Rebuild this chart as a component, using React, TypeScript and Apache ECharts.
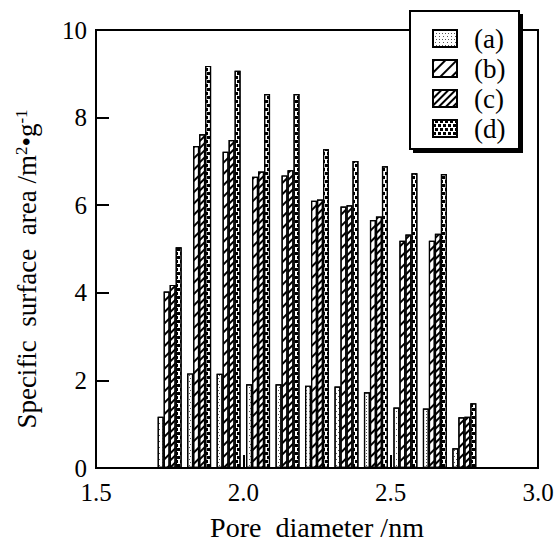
import React, { useEffect, useRef } from "react";
import * as echarts from "echarts";

const poreDiameters = [1.75, 1.85, 1.95, 2.05, 2.15, 2.25, 2.35, 2.45, 2.55, 2.65, 2.75];
const seriesA = [1.17, 2.16, 2.15, 1.91, 1.91, 1.88, 1.86, 1.73, 1.38, 1.36, 0.45];
const seriesB = [4.03, 7.35, 7.22, 6.65, 6.68, 6.1, 5.97, 5.66, 5.19, 5.19, 1.16];
const seriesC = [4.18, 7.62, 7.49, 6.77, 6.8, 6.13, 6.0, 5.74, 5.33, 5.35, 1.17];
const seriesD = [5.04, 9.18, 9.07, 8.54, 8.54, 7.28, 7.01, 6.89, 6.73, 6.71, 1.48];
const seriesNames = ["(a)", "(b)", "(c)", "(d)"];
const xTicks = [1.5, 2.0, 2.5, 3.0];
const yTicks = [0, 2, 4, 6, 8, 10];

const FONT = "Liberation Serif";

const decals: any[] = [
  {
    symbol: "rect",
    symbolSize: 1,
    color: "#555",
    backgroundColor: "#fff",
    dashArrayX: [[1, 2], [0, 1.5, 1, 0.5]],
    dashArrayY: [1, 1.5],
    rotation: 0,
  },
  {
    symbol: "rect",
    symbolSize: 1,
    color: "#000",
    backgroundColor: "#fff",
    dashArrayX: [1, 0],
    dashArrayY: [1.6, 6],
    rotation: -Math.PI / 4,
  },
  {
    symbol: "rect",
    symbolSize: 1,
    color: "#000",
    backgroundColor: "#fff",
    dashArrayX: [1, 0],
    dashArrayY: [1.5, 2.2],
    rotation: -Math.PI / 4,
  },
  {
    symbol: "rect",
    symbolSize: 1,
    color: "#000",
    backgroundColor: "#fff",
    dashArrayX: [[3, 1.5], [0, 1.5, 3, 0]],
    dashArrayY: [2.5, 0.8],
    rotation: 0,
  },
];

export default function App() {
  const ref = useRef<HTMLDivElement>(null);
  useEffect(() => {
    if (!ref.current) return;
    const chart = echarts.init(ref.current, undefined, { renderer: "svg" });
    const allValues = [seriesA, seriesB, seriesC, seriesD];
    const series = allValues.map((vals, i) => ({
      name: seriesNames[i],
      type: "bar",
      barWidth: 6,
      barGap: "0%",
      data: poreDiameters.map((x, j) => [x, vals[j]]),
      itemStyle: {
        color: "#fff",
        borderColor: "#000",
        borderWidth: 1.2,
        decal: decals[i],
      },
    }));
    chart.setOption({
      animation: false,
      backgroundColor: "#fff",
      grid: {
        left: 96,
        right: 18,
        top: 30,
        bottom: 75,
        outerBoundsMode: "none",
        containLabel: false,
        show: true,
        borderColor: "#000",
        borderWidth: 2,
        backgroundColor: "transparent",
      },
      xAxis: {
        type: "value",
        min: xTicks[0],
        max: xTicks[xTicks.length - 1],
        interval: 0.5,
        name: "Pore  diameter /nm",
        nameLocation: "middle",
        nameGap: 45,
        nameTextStyle: { fontFamily: FONT, fontSize: 28, color: "#000" },
        axisLine: { lineStyle: { color: "#000", width: 2 } },
        axisTick: { inside: true, length: 13, lineStyle: { color: "#000", width: 2 } },
        axisLabel: {
          fontFamily: FONT,
          fontSize: 25,
          color: "#000",
          margin: 12,
          formatter: (v: number) => v.toFixed(1),
        },
        splitLine: { show: false },
      },
      yAxis: {
        type: "value",
        min: yTicks[0],
        max: yTicks[yTicks.length - 1],
        interval: 2,
        name: "{t|Specific  surface  area /m}{s|2}{t|•g}{s|-1}",
        nameLocation: "middle",
        nameGap: 56,
        nameTextStyle: {
          fontFamily: FONT,
          fontSize: 27,
          color: "#000",
          padding: [0, 40, 0, 0],
          rich: {
            t: { fontFamily: FONT, fontSize: 27, color: "#000" },
            s: { fontFamily: FONT, fontSize: 17, color: "#000", verticalAlign: "top" },
          },
        },
        axisLine: { lineStyle: { color: "#000", width: 2 } },
        axisTick: { inside: true, length: 13, lineStyle: { color: "#000", width: 2 } },
        axisLabel: { fontFamily: FONT, fontSize: 25, color: "#000", margin: 9 },
        splitLine: { show: false },
      },
      legend: {
        orient: "vertical",
        left: 432,
        top: 25,
        padding: 0,
        itemGap: 3,
        itemWidth: 24,
        itemHeight: 17,
        icon: "rect",
        z: 10,
        textStyle: { fontFamily: FONT, fontSize: 27, color: "#000", padding: [0, 0, 0, 12] },
        data: seriesNames,
      },
      graphic: [
        {
          type: "rect",
          z: 8,
          shape: { x: 413, y: 14, width: 110, height: 139 },
          style: { fill: "#000" },
        },
        {
          type: "rect",
          z: 9,
          shape: { x: 410, y: 11, width: 109, height: 138 },
          style: { fill: "#fff", stroke: "#000", lineWidth: 2 },
        },
      ],
      series,
    });
    return () => chart.dispose();
  }, []);
  return (
    <div
      ref={ref}
      style={{ position: "absolute", left: 0, top: 0, width: 556, height: 543 }}
    />
  );
}
